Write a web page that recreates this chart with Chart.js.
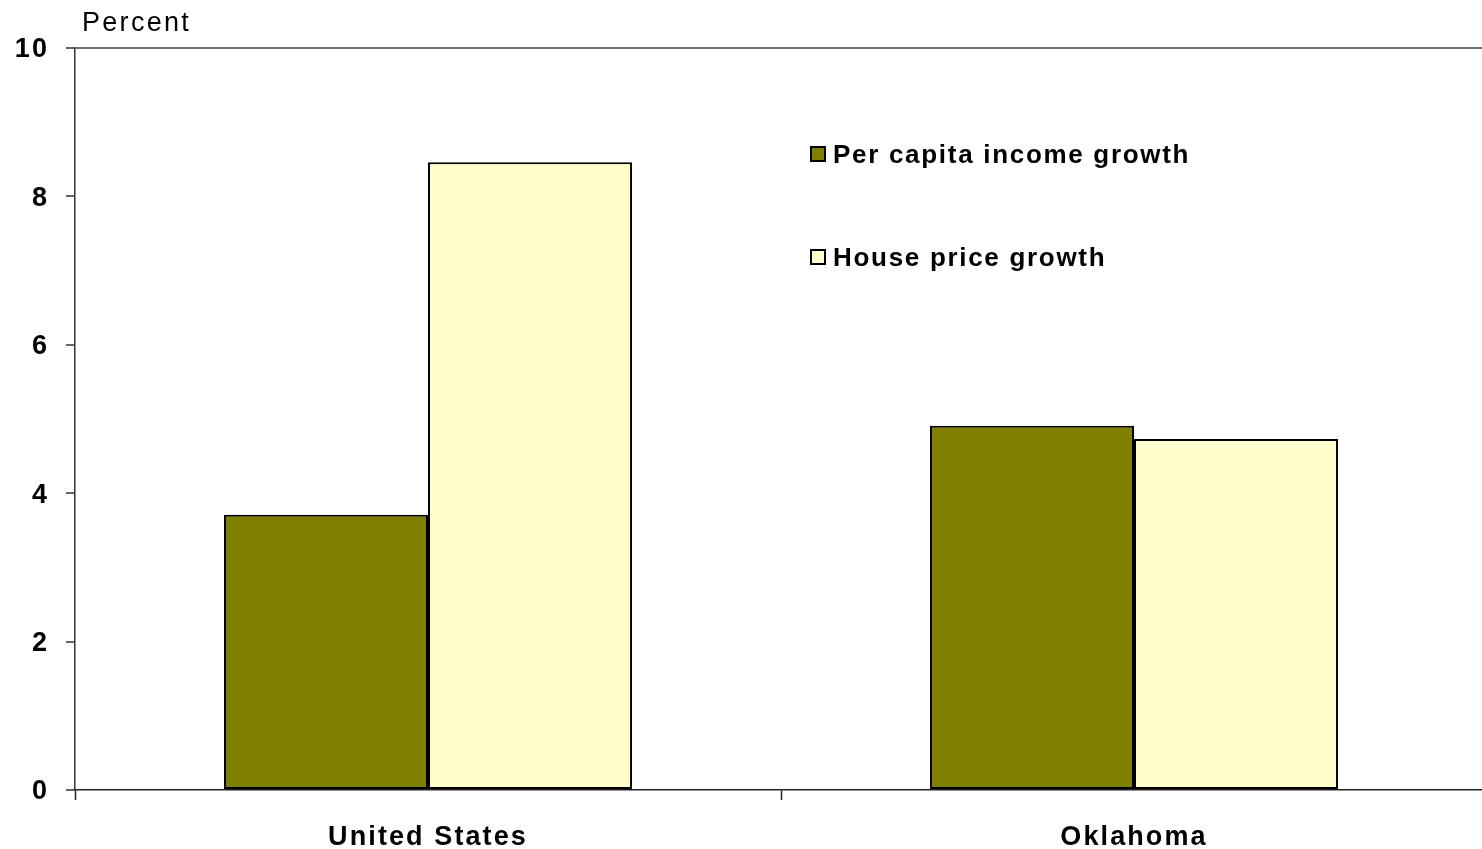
<!DOCTYPE html>
<html><head><meta charset="utf-8">
<script src="https://cdn.jsdelivr.net/npm/chart.js@4"></script>
<style>html,body{margin:0;padding:0;background:#fff;overflow:hidden}#wrap{width:1482px;height:849px;overflow:hidden}canvas{display:block}</style>
</head><body><div id="wrap"><canvas id="c" width="1487" height="849"></canvas></div>
<script>
const categories = ["United States", "Oklahoma"];
const seriesNames = ["Per capita income growth", "House price growth"];
const incomeGrowth = [3.71, 4.91];
const housePriceGrowth = [8.46, 4.73];
const yTicks = [0, 2, 4, 6, 8, 10];
const yAxisTitle = "Percent";

const FONT = "'Liberation Sans', Arial, sans-serif";
const colors = ["#808000", "#FFFFCC"];

const spacing = {
  id: 'spacing',
  beforeLayout(chart) { chart.ctx.letterSpacing = '2.1px'; },
  beforeDraw(chart) { chart.ctx.letterSpacing = '2.1px'; }
};

const overlay = {
  id: 'overlay',
  afterDraw(chart) {
    const ctx = chart.ctx;
    ctx.save();
    ctx.fillStyle = '#000';
    ctx.letterSpacing = '2.3px';
    ctx.font = "27px " + FONT;
    ctx.textBaseline = 'middle';
    ctx.textAlign = 'left';
    ctx.fillText(yAxisTitle, 82, 24);
    const lx = 811, rows = [154, 257];
    ctx.letterSpacing = '1.7px';
    chart.data.datasets.forEach((ds, i) => {
      const y = rows[i];
      ctx.fillStyle = ds.backgroundColor;
      ctx.fillRect(lx, y - 7, 14, 14);
      ctx.strokeStyle = '#000';
      ctx.lineWidth = 2;
      ctx.strokeRect(lx, y - 7, 14, 14);
      ctx.fillStyle = '#000';
      ctx.font = "bold 26px " + FONT;
      ctx.fillText(ds.label, 833, y + 2);
    });
    ctx.restore();
  }
};

new Chart(document.getElementById('c'), {
  type: 'bar',
  data: {
    labels: categories,
    datasets: [
      { label: seriesNames[0], data: incomeGrowth, backgroundColor: colors[0], borderColor: '#000', borderWidth: 2, borderSkipped: false },
      { label: seriesNames[1], data: housePriceGrowth, backgroundColor: colors[1], borderColor: '#000', borderWidth: 2, borderSkipped: false }
    ]
  },
  options: {
    responsive: false,
    animation: false,
    layout: { padding: { top: 48, right: 0, left: 0, bottom: 0 } },
    datasets: { bar: { categoryPercentage: 0.578, barPercentage: 1.0 } },
    plugins: { legend: { display: false }, tooltip: { enabled: false } },
    scales: {
      x: {
        offset: true,
        grid: { offset: true, drawOnChartArea: false, drawTicks: true, tickLength: 10, tickColor: '#222', tickWidth: 1.5 },
        border: { color: '#222', width: 1.5 },
        ticks: { color: '#000', font: { family: FONT, size: 27, weight: 'bold' }, padding: 21, maxRotation: 0 },
        afterFit(s) { s.height = 59; }
      },
      y: {
        min: 0, max: 10,
        afterBuildTicks(s) { s.ticks = yTicks.map(v => ({ value: v })); },
        grid: {
          color: c => (c.tick && c.tick.value === 10) ? '#6e6e6e' : 'rgba(0,0,0,0)',
          lineWidth: 2,
          tickColor: '#333', tickWidth: 1.5, tickLength: 9, drawTicks: true
        },
        border: { color: '#333', width: 1.5 },
        ticks: { color: '#000', font: { family: FONT, size: 27, weight: 'bold' }, padding: 17, labelOffset: 2 },
        afterFit(s) { s.width = 75; }
      }
    }
  },
  plugins: [spacing, overlay]
});
</script></body></html>
